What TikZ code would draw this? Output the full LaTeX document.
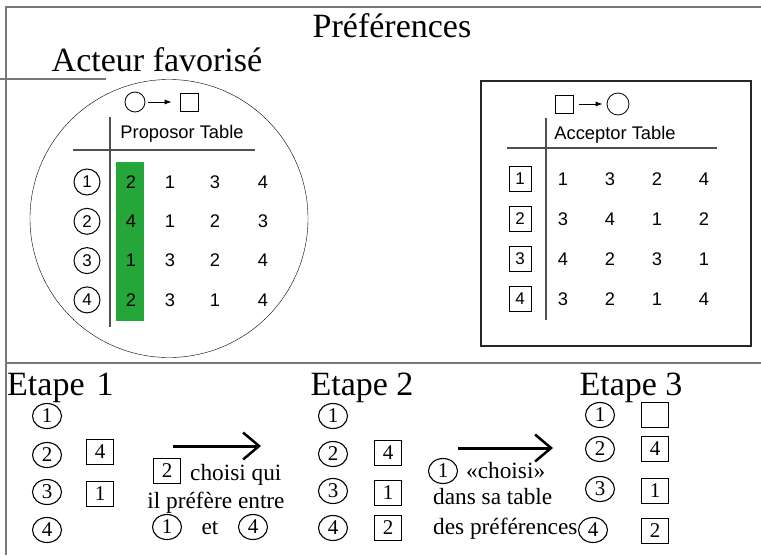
\documentclass[tikz,border=0pt]{standalone}
\usepackage{fontspec}
\setmainfont{Liberation Serif}
\setsansfont{Liberation Sans}
\usetikzlibrary{shapes.geometric,arrows.meta}
\definecolor{choixvert}{RGB}{36,166,56}
\definecolor{cadregris}{RGB}{120,120,120}
\definecolor{traitgris}{RGB}{80,80,80}

\begin{document}
\begin{tikzpicture}[x=1pt,y=-1pt,
    titre/.style={font=\fontsize{34}{40}\selectfont, inner sep=0pt},
    texte/.style={font=\fontsize{23.3}{28}\selectfont, inner sep=0pt},
    tab/.style={font=\sffamily\fontsize{18.3}{21}\selectfont, inner sep=0pt},
    rond/.style={draw, ellipse, line width=1.1pt, minimum width=29pt, minimum height=25pt, inner sep=0pt, font=\fontsize{21}{24}\selectfont},
    carre/.style={draw, line width=1.1pt, minimum width=27pt, minimum height=25pt, inner sep=0pt, font=\fontsize{21}{24}\selectfont},
    prond/.style={draw, circle, line width=1pt, minimum size=26pt, inner sep=0pt, font=\sffamily\fontsize{17}{19}\selectfont},
    pcarre/.style={draw, line width=1pt, minimum width=22pt, minimum height=25pt, inner sep=0pt, font=\sffamily\fontsize{17}{19}\selectfont},
    cadre/.style={cadregris, line width=1.5pt},
    grille/.style={traitgris, line width=1.3pt},
    fleche/.style={line width=3pt, -{Straight Barb[length=16pt,width=27pt,line width=2.5pt]}}]
    \useasboundingbox (0,0) rectangle (761,555);

    % cadre
    \draw [cadre] (6,555) -- (6,7) -- (761,7);
    \draw [cadre] (0,79) -- (106,79);
    \draw [cadre] (6,363) -- (761,363);
    \node [titre, anchor=base] (pref) at (392,37) {Préférences};
    \node [titre, anchor=base] (acteur) at (157,71) {Acteur favorisé};

    % proposor table
    \draw [thin] (169,218.5) circle [radius=139pt];
    \fill [choixvert] (116,162) rectangle (144,321);
    \node [draw, circle, thick, minimum size=20pt, inner sep=0pt] (psym1) at (135,102) {};
    \node [draw, thick, minimum size=18pt, inner sep=0pt] (psym2) at (189,102) {};
    \draw [thick, -{Latex[length=7pt,width=5pt]}, shorten <=3pt, shorten >=8pt] (psym1) -- (psym2);
    \draw [grille] (110,117) -- (110,327);
    \draw [grille] (73,150) -- (255,150);
    \node [tab, anchor=base] (ptitre) at (182,138) {Proposor Table};
    \foreach \a/\b/\c/\d [count=\i] in {2/1/3/4, 4/1/2/3, 1/3/2/4, 2/3/1/4} {
        \node [prond] (pl\i) at (87,{182+39.3*(\i-1)}) {\i};
        \node [tab] (p\i a) at (131,{182+39.3*(\i-1)}) {\a};
        \node [tab] (p\i b) at (170,{182+39.3*(\i-1)}) {\b};
        \node [tab] (p\i c) at (215,{182+39.3*(\i-1)}) {\c};
        \node [tab] (p\i d) at (263,{182+39.3*(\i-1)}) {\d};
    }

    % acceptor table
    \draw [line width=2pt, black!85] (481,81) rectangle (751,346);
    \node [draw, thick, minimum size=18pt, inner sep=0pt] (asym1) at (564.5,104) {};
    \node [draw, circle, thick, minimum size=22pt, inner sep=0pt] (asym2) at (618,104) {};
    \draw [thick, -{Latex[length=7pt,width=5pt]}, shorten <=5pt, shorten >=4pt] (asym1) -- (asym2);
    \draw [grille] (546,118) -- (546,320);
    \draw [grille] (507,148) -- (717,148);
    \node [tab, anchor=base] (atitre) at (615,139) {Acceptor Table};
    \foreach \a/\b/\c/\d [count=\i] in {1/3/2/4, 3/4/1/2, 4/2/3/1, 3/2/1/4} {
        \node [pcarre] (al\i) at (520,{179+40*(\i-1)}) {\i};
        \node [tab] (a\i a) at (563,{179+40*(\i-1)}) {\a};
        \node [tab] (a\i b) at (610,{179+40*(\i-1)}) {\b};
        \node [tab] (a\i c) at (657,{179+40*(\i-1)}) {\c};
        \node [tab] (a\i d) at (704,{179+40*(\i-1)}) {\d};
    }

    % etape 1
    \node [titre, anchor=base west] (e1) at (7,395) {Etape\hspace{12pt}1};
    \node [rond] (e1r1) at (47,416) {1};
    \node [rond] (e1r2) at (47,455) {2};
    \node [rond] (e1r3) at (47,492) {3};
    \node [rond] (e1r4) at (47,530) {4};
    \node [carre] (e1c2) at (100,452) {4};
    \node [carre] (e1c3) at (100,494) {1};

    % passage 1 -> 2
    \coordinate (f1a) at (173,446);
    \coordinate (f1b) at (261,446);
    \draw [fleche] (f1a) -- (f1b);
    \node [carre] (t1c) at (167,471) {2};
    \node [texte, anchor=base west] (t1a) at (190,480) {choisi qui};
    \node [texte, anchor=base] (t1b) at (216,508) {il préfère entre};
    \node [rond] (t1r1) at (167,527) {1};
    \node [texte, anchor=base] (t1et) at (210,534) {et};
    \node [rond] (t1r4) at (253,527) {4};

    % etape 2
    \node [titre, anchor=base] (e2) at (362,395) {Etape 2};
    \node [rond] (e2r1) at (333,416) {1};
    \node [rond] (e2r2) at (333,454) {2};
    \node [rond] (e2r3) at (333,491) {3};
    \node [rond] (e2r4) at (333,528) {4};
    \node [carre] (e2c2) at (388,453) {4};
    \node [carre] (e2c3) at (388,493) {1};
    \node [carre] (e2c4) at (388,528) {2};

    % passage 2 -> 3
    \coordinate (f2a) at (458,448);
    \coordinate (f2b) at (553,448);
    \draw [fleche] (f2a) -- (f2b);
    \node [rond] (t2r1) at (443,471) {1};
    \node [texte, anchor=base west] (t2a) at (466,478) {«choisi»};
    \node [texte, anchor=base west] (t2b) at (433,504) {dans sa table};
    \node [texte, anchor=base west] (t2c) at (433,534) {des préférences};

    % etape 3
    \node [titre, anchor=base] (e3) at (631,395) {Etape 3};
    \node [rond] (e3r1) at (600,415) {1};
    \node [rond] (e3r2) at (600,449) {2};
    \node [rond] (e3r3) at (600,489) {3};
    \node [rond] (e3r4) at (593,530) {4};
    \node [carre] (e3c1) at (655,415) {};
    \node [carre] (e3c2) at (655,449) {4};
    \node [carre] (e3c3) at (655,491) {1};
    \node [carre] (e3c4) at (655,531) {2};
\end{tikzpicture}
\end{document}
